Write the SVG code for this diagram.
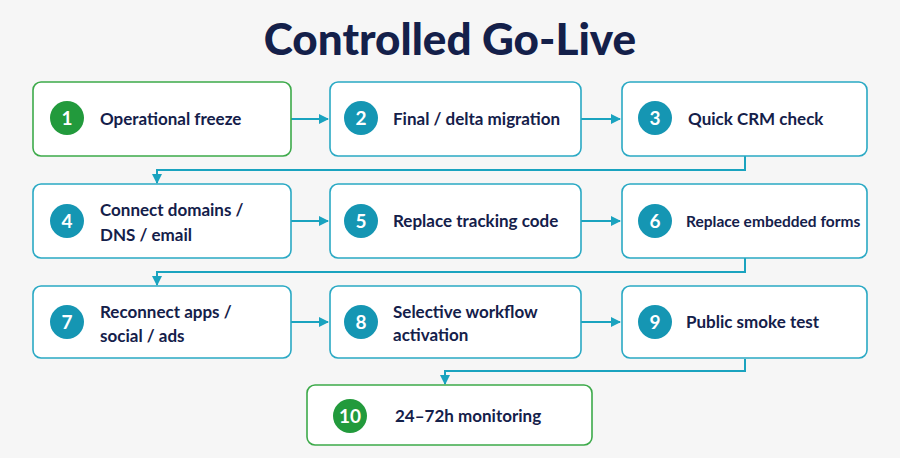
<svg xmlns="http://www.w3.org/2000/svg" width="900" height="458" viewBox="0 0 900 458">
<defs>
<marker id="ah" markerWidth="10" markerHeight="10" refX="9" refY="5" orient="auto" markerUnits="userSpaceOnUse"><path d="M0,0 L10,5 L0,10 Z" fill="#1aa3bf"/></marker>
<style>
.b{fill:#fff;stroke:#2aa9c4;stroke-width:1.6}
.g{fill:#fff;stroke:#3daa4a;stroke-width:1.6}
.cb{fill:#1596b3}.cg{fill:#229a3c}
.n{font-family:"Lato","Liberation Sans",sans-serif;font-weight:700;font-size:19px;fill:#fff;text-anchor:middle}
.t{font-family:"Lato","Liberation Sans",sans-serif;font-weight:700;font-size:17px;fill:#14204a}
.t.s{font-size:15.5px}
.c{fill:none;stroke:#1aa3bf;stroke-width:2;marker-end:url(#ah)}
</style>
</defs>
<rect width="900" height="458" fill="#f6f6f6"/>
<text x="450" y="55" text-anchor="middle" font-family="Lato,'Liberation Sans',sans-serif" font-weight="900" font-size="44" fill="#14204a">Controlled Go-Live</text>
<g id="connectors">
<path class="c" d="M291,119 H328"/>
<path class="c" d="M581,119 H620"/>
<path class="c" d="M745,156 V170 H157 V183"/>
<path class="c" d="M291,221 H328"/>
<path class="c" d="M581,221 H620"/>
<path class="c" d="M745,258 V272 H157 V285"/>
<path class="c" d="M291,322 H328"/>
<path class="c" d="M581,322 H620"/>
<path class="c" d="M745,359 V371 H445 V384"/>
</g>
<g id="n1"><rect class="g" x="33" y="82" width="258" height="74" rx="8"/><circle class="cg" cx="67" cy="118" r="17"/><text class="n" x="67" y="125">1</text><text class="t" x="100" y="125">Operational freeze</text></g>
<g id="n2"><rect class="b" x="330" y="82" width="251" height="74" rx="8"/><circle class="cb" cx="361" cy="118" r="17"/><text class="n" x="361" y="125">2</text><text class="t" x="393" y="125">Final / delta migration</text></g>
<g id="n3"><rect class="b" x="622" y="82" width="245" height="74" rx="8"/><circle class="cb" cx="655" cy="118" r="17"/><text class="n" x="655" y="125">3</text><text class="t" x="688" y="125">Quick CRM check</text></g>
<g id="n4"><rect class="b" x="33" y="184" width="258" height="74" rx="8"/><circle class="cb" cx="67" cy="221" r="17"/><text class="n" x="67" y="228">4</text><text class="t" x="100" y="216">Connect domains /</text><text class="t" x="100" y="241">DNS / email</text></g>
<g id="n5"><rect class="b" x="330" y="184" width="251" height="74" rx="8"/><circle class="cb" cx="361" cy="221" r="17"/><text class="n" x="361" y="228">5</text><text class="t" x="393" y="227">Replace tracking code</text></g>
<g id="n6"><rect class="b" x="622" y="184" width="245" height="74" rx="8"/><circle class="cb" cx="655" cy="221" r="17"/><text class="n" x="655" y="228">6</text><text class="t s" x="686" y="227">Replace embedded forms</text></g>
<g id="n7"><rect class="b" x="33" y="286" width="258" height="72" rx="8"/><circle class="cb" cx="67" cy="322" r="17"/><text class="n" x="67" y="329">7</text><text class="t" x="100" y="318">Reconnect apps /</text><text class="t" x="100" y="342">social / ads</text></g>
<g id="n8"><rect class="b" x="330" y="286" width="251" height="72" rx="8"/><circle class="cb" cx="361" cy="322" r="17"/><text class="n" x="361" y="329">8</text><text class="t" x="393" y="318">Selective workflow</text><text class="t" x="393" y="341">activation</text></g>
<g id="n9"><rect class="b" x="622" y="286" width="245" height="72" rx="8"/><circle class="cb" cx="655" cy="322" r="17"/><text class="n" x="655" y="329">9</text><text class="t" x="686" y="328">Public smoke test</text></g>
<g id="n10"><rect class="g" x="307" y="385" width="285" height="60" rx="8"/><circle class="cg" cx="350" cy="416" r="17"/><text class="n" x="350" y="423">10</text><text class="t" x="395" y="422">24–72h monitoring</text></g>
</svg>
